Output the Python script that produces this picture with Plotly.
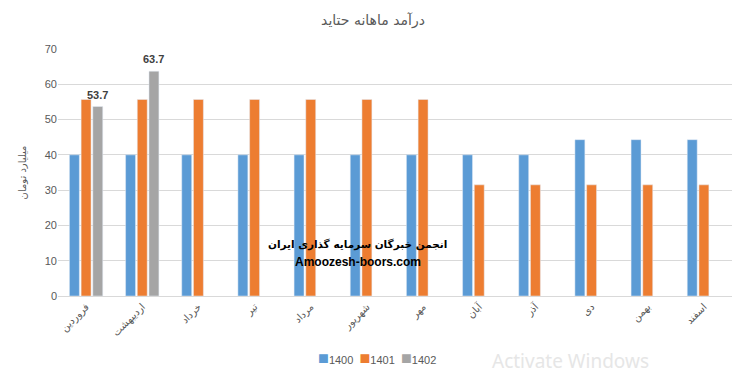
import plotly.graph_objects as go

months = ["فروردین", "اردیبهشت", "خرداد", "تیر", "مرداد", "شهریور",
          "مهر", "آبان", "آذر", "دی", "بهمن", "اسفند"]
s1400 = [40, 40, 40, 40, 40, 40, 40, 40, 40, 44.3, 44.3, 44.3]
s1401 = [55.7, 55.7, 55.7, 55.7, 55.7, 55.7, 55.7, 31.5, 31.5, 31.5, 31.5, 31.5]
s1402 = [53.7, 63.7]
series_names = ["1400", "1401", "1402"]
colors = ["#5B9BD5", "#ED7D31", "#A5A5A5"]
y_ticks = [0, 10, 20, 30, 40, 50, 60, 70]

FONT = "Liberation Sans, DejaVu Sans, sans-serif"
L, R, T, B = 58, 14, 49, 80
W, H = 746, 376
pw, ph = W - L - R, H - T - B
def px(x): return (x - L) / pw
def py(y): return (H - B - y) / ph

BARGAP, GROUPGAP = 0.375, 0.15

fig = go.Figure()
for name, vals, col in zip(series_names, [s1400, s1401, s1402], colors):
    fig.add_trace(go.Bar(name=name, x=months[:len(vals)], y=vals, marker_color=col,
                         showlegend=False))

# data labels for 1402 (placed over the third bar slot of each group)
slot = (1 - BARGAP) / 3
for i, v in enumerate(s1402):
    fig.add_annotation(x=i + slot, y=v, xref="x", yref="y", text=f"<b>{v:.1f}</b>",
                       showarrow=False, yanchor="bottom", yshift=4,
                       font=dict(size=11, color="#404040", family=FONT))

fig.update_layout(
    width=W, height=H,
    margin=dict(l=L, r=R, t=T, b=B, autoexpand=False),
    paper_bgcolor="white", plot_bgcolor="white",
    barmode="group", bargap=BARGAP, bargroupgap=GROUPGAP,
    font=dict(family=FONT, color="#595959"),
    title=dict(text="درآمد ماهانه حتاید", x=0.5, xanchor="center", y=0.947, yanchor="middle",
               font=dict(size=14, color="#595959", family="DejaVu Sans")),
    showlegend=False,
    xaxis=dict(tickangle=-45, tickfont=dict(size=10, color="#595959", family="DejaVu Sans"),
               showline=True, linecolor="#D9D9D9", linewidth=1, ticks="",
               showgrid=False, automargin=False),
    yaxis=dict(range=[0, 70], tickvals=y_ticks, showgrid=True, gridcolor="#D9D9D9",
               zeroline=False, showline=False, ticks="", automargin=False,
               tickfont=dict(size=11, color="#595959"),
               title=dict(text="میلیارد تومان", standoff=16,
                          font=dict(size=10, color="#595959", family="DejaVu Sans"))),
)

# legend (as text)
legend_text = "&nbsp;&nbsp;".join(
    f"<span style='color:{c};font-size:18px'>■</span>{n}" for n, c in zip(series_names, colors))
fig.add_annotation(text=legend_text, x=px(377), y=py(358), xref="paper", yref="paper",
                   showarrow=False, xanchor="center", yanchor="middle",
                   font=dict(size=11, color="#595959", family=FONT))

fig.add_annotation(text="<b>انجمن خبرگان سرمایه گذاری ایران</b>", x=px(357), y=py(253),
                   xref="paper", yref="paper", showarrow=False,
                   font=dict(size=10.5, color="black", family="DejaVu Sans"))
fig.add_annotation(text="<b>Amoozesh-boors.com</b>", x=px(358), y=py(271),
                   xref="paper", yref="paper", showarrow=False,
                   font=dict(size=12, color="black", family=FONT))
fig.add_annotation(text="Activate Windows", x=px(490), y=py(376), xanchor="left",
                   yanchor="bottom", xref="paper", yref="paper", showarrow=False,
                   font=dict(size=19, color="#E6E6E6", family="Noto Sans"))

fig.write_html("out.html", config={"displayModeBar": False},
               post_script="document.body.style.margin='0';")
